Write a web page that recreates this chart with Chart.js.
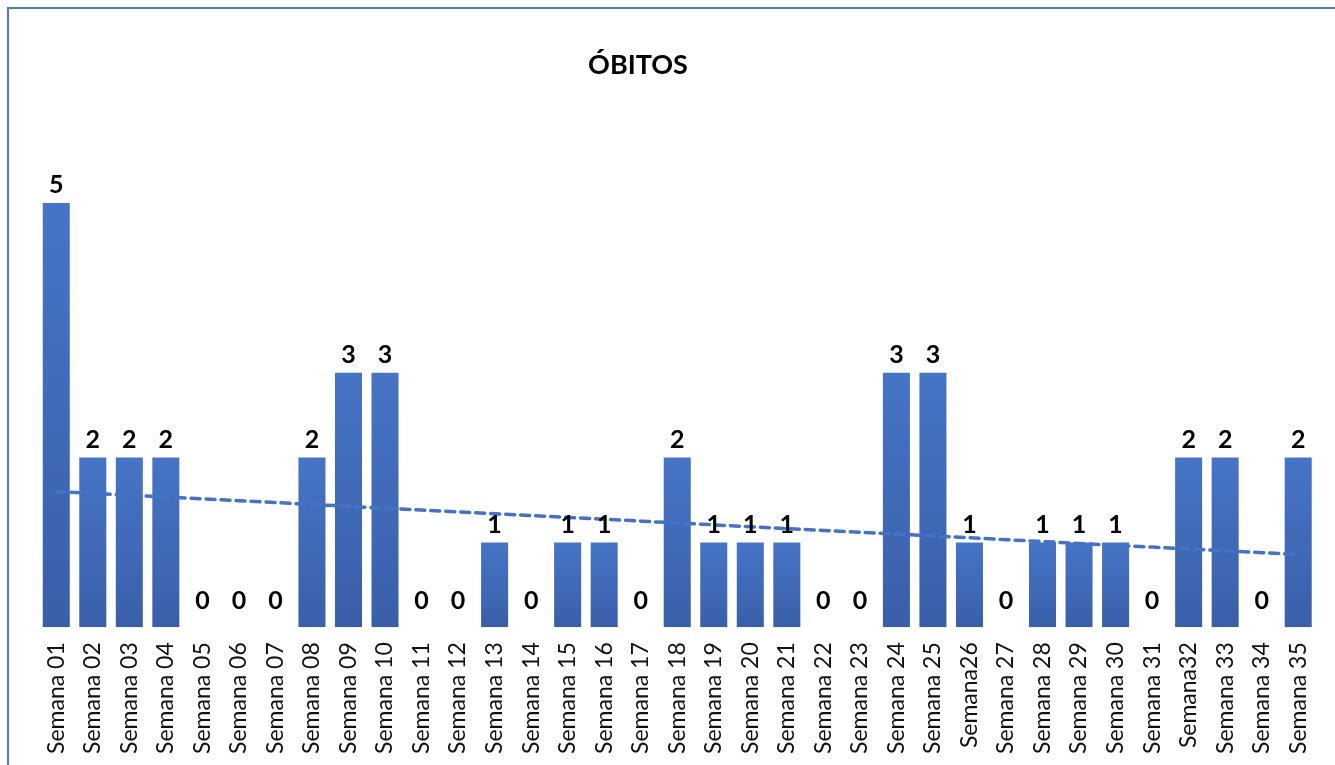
<!DOCTYPE html>
<html>
<head>
<meta charset="utf-8">
<script src="https://cdn.jsdelivr.net/npm/chart.js@4.4.1/dist/chart.umd.min.js"></script>
<style>
  html, body { margin: 0; padding: 0; background: #fff; }
  #wrap { position: relative; width: 1335px; height: 765px; overflow: hidden; }
  #frame { position: absolute; left: 7px; top: 7px; width: 1340px; height: 800px;
           border-left: 2px solid #4a7bd0; border-top: 2px solid #4a7bd0; }
  #title { position: absolute; left: 538px; top: 47px; width: 200px; text-align: center;
           font: bold 27px Lato, sans-serif; color: #000; }
  canvas { position: absolute; left: 0; top: 0; }
</style>
</head>
<body>
<div id="wrap">
  <div id="frame"></div>
  <canvas id="obitosChart" width="1341" height="774"></canvas>
  <div id="title">ÓBITOS</div>
</div>
<script>
// semanas epidemiológicas
const semanas = [
  'Semana 01', 'Semana 02', 'Semana 03', 'Semana 04', 'Semana 05', 'Semana 06', 'Semana 07',
  'Semana 08', 'Semana 09', 'Semana 10', 'Semana 11', 'Semana 12', 'Semana 13', 'Semana 14',
  'Semana 15', 'Semana 16', 'Semana 17', 'Semana 18', 'Semana 19', 'Semana 20', 'Semana 21',
  'Semana 22', 'Semana 23', 'Semana 24', 'Semana 25', 'Semana26', 'Semana 27', 'Semana 28',
  'Semana 29', 'Semana 30', 'Semana 31', 'Semana32', 'Semana 33', 'Semana 34', 'Semana 35'
];
const obitos = [5, 2, 2, 2, 0, 0, 0, 2, 3, 3, 0, 0, 1, 0, 1, 1, 0, 2, 1, 1, 1, 0, 0, 3, 3, 1, 0, 1, 1, 1, 0, 2, 2, 0, 2];

// linha de tendência linear (mínimos quadrados), como no Excel
function tendencia(vals) {
  const n = vals.length;
  let sx = 0, sy = 0, sxy = 0, sxx = 0;
  vals.forEach((y, i) => { const x = i + 1; sx += x; sy += y; sxy += x * y; sxx += x * x; });
  const b = (n * sxy - sx * sy) / (n * sxx - sx * sx);
  const a = (sy - b * sx) / n;
  return vals.map((_, i) => a + b * (i + 1));
}

const rotulos = {
  id: 'rotulos',
  afterDatasetsDraw(chart) {
    const ctx = chart.ctx;
    const meta = chart.getDatasetMeta(0);
    ctx.save();
    ctx.font = 'bold 25px Lato, sans-serif';
    ctx.fillStyle = '#000';
    ctx.textAlign = 'center';
    ctx.textBaseline = 'bottom';
    meta.data.forEach((bar, i) => {
      const v = obitos[i];
      const off = v === 0 ? 16 : 7;
      ctx.fillText(String(v), bar.x, bar.y - off + 2);
    });
    ctx.restore();
  }
};

new Chart(document.getElementById('obitosChart'), {
  type: 'bar',
  data: {
    labels: semanas,
    datasets: [
      {
        label: 'Óbitos',
        data: obitos,
        order: 2,
        backgroundColor(c) {
          const chart = c.chart;
          const area = chart.chartArea;
          if (!area) return '#4472c4';
          const ys = chart.scales.y;
          const top = ys.getPixelForValue(obitos[c.dataIndex]);
          const bottom = ys.getPixelForValue(0);
          if (bottom - top < 1) return '#4472c4';
          const g = chart.ctx.createLinearGradient(0, top, 0, bottom);
          g.addColorStop(0, '#4674c6');
          g.addColorStop(1, '#3a5fa9');
          return g;
        },
        borderWidth: 0,
        categoryPercentage: 1,
        barPercentage: 0.74
      },
      {
        type: 'line',
        label: 'Linear (Óbitos)',
        data: tendencia(obitos),
        order: 1,
        borderColor: '#4472c4',
        borderWidth: 3.5,
        borderDash: [9, 6],
        borderCapStyle: 'round',
        pointRadius: 0,
        fill: false,
        tension: 0
      }
    ]
  },
  options: {
    responsive: false,
    animation: false,
    layout: { padding: { left: 38, right: 13, top: 118, bottom: 5 } },
    plugins: { legend: { display: false }, title: { display: false }, tooltip: { enabled: false } },
    scales: {
      x: {
        grid: { display: false, drawTicks: false },
        border: { display: false },
        ticks: { color: '#111', font: { family: 'Lato', size: 23 }, minRotation: 90, maxRotation: 90, padding: 15, autoSkip: false }
      },
      y: { display: false, min: 0, max: 6 }
    }
  },
  plugins: [rotulos]
});
</script>
</body>
</html>
